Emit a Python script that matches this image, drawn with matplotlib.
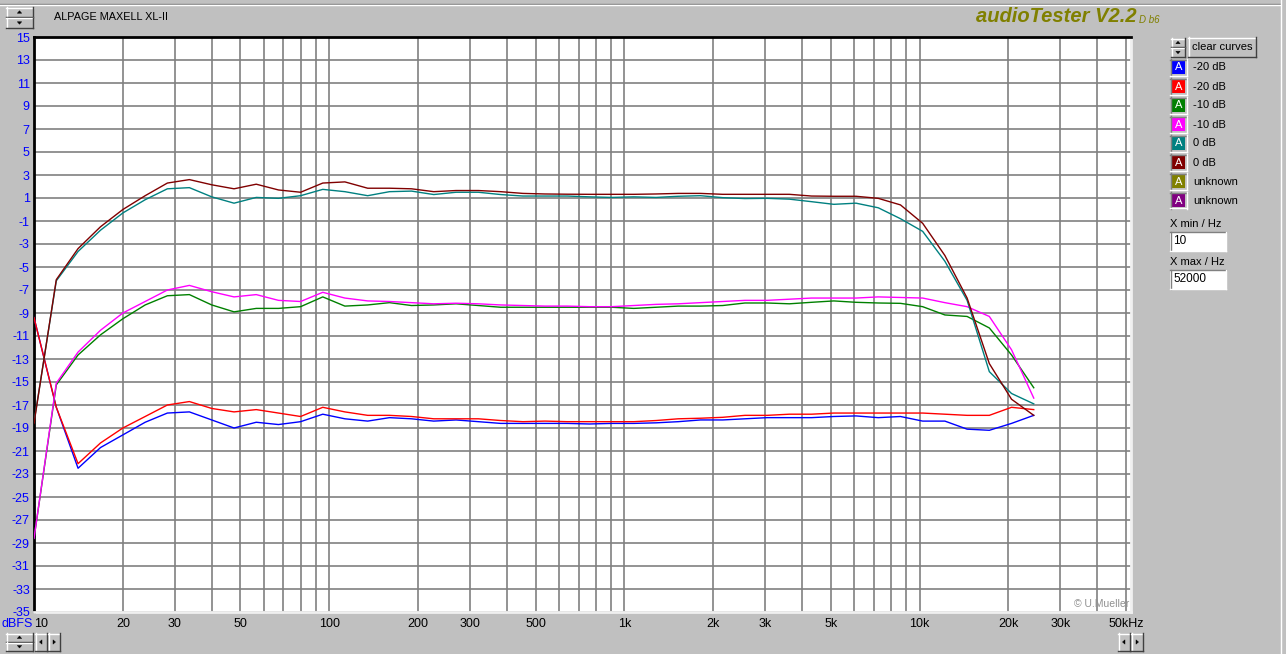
import matplotlib
matplotlib.use("Agg")
import matplotlib.pyplot as plt
from matplotlib.patches import Rectangle, Polygon
from matplotlib.lines import Line2D
from matplotlib.transforms import blended_transform_factory

plt.rcParams["font.family"] = ["Liberation Sans", "DejaVu Sans"]

# ── data (1/4-octave points) ────────────────────────────────────────────
freq_hz = [10, 11.9, 14.1, 16.8, 20, 23.8, 28.3, 33.6, 40, 47.6, 56.6, 67.3,
           80, 95.1, 113, 135, 160, 190, 226, 269, 320, 381, 453, 538, 640,
           761, 905, 1076, 1280, 1522, 1810, 2153, 2560, 3044, 3620, 4305,
           5120, 6089, 7241, 8611, 10240, 12177, 14482, 17222, 20480, 24355]

blue_m20 = [-9.4, -17.2, -22.5, -20.7, -19.6, -18.5, -17.7, -17.6, -18.3, -19.0,
            -18.5, -18.7, -18.45, -17.8, -18.2, -18.4, -18.1, -18.2, -18.4, -18.3,
            -18.45, -18.6, -18.6, -18.6, -18.6, -18.65, -18.6, -18.6, -18.55, -18.45,
            -18.3, -18.3, -18.2, -18.1, -18.1, -18.1, -18.0, -17.95, -18.1, -18.0,
            -18.4, -18.4, -19.1, -19.2, -18.6, -17.9]
red_m20 = [-9.4, -17.2, -22.1, -20.3, -19.0, -18.0, -17.0, -16.7, -17.3, -17.6,
           -17.4, -17.7, -18.0, -17.2, -17.6, -17.9, -17.9, -18.0, -18.2, -18.2,
           -18.2, -18.35, -18.45, -18.4, -18.45, -18.45, -18.45, -18.45, -18.35, -18.2,
           -18.15, -18.07, -17.9, -17.9, -17.8, -17.8, -17.7, -17.7, -17.7, -17.7,
           -17.7, -17.8, -17.9, -17.9, -17.2, -17.4]
green_m10 = [-28.6, -15.25, -12.65, -10.9, -9.5, -8.3, -7.5, -7.4, -8.3, -8.9,
             -8.6, -8.6, -8.45, -7.6, -8.4, -8.3, -8.1, -8.35, -8.3, -8.2,
             -8.35, -8.5, -8.5, -8.5, -8.5, -8.5, -8.5, -8.6, -8.5, -8.4,
             -8.4, -8.35, -8.13, -8.13, -8.2, -8.07, -7.95, -8.07, -8.13, -8.16,
             -8.45, -9.17, -9.3, -10.3, -12.65, -15.5]
magenta_m10 = [-28.6, -15.1, -12.4, -10.5, -9.0, -8.0, -7.0, -6.6, -7.15, -7.6,
               -7.4, -7.9, -8.0, -7.2, -7.7, -7.95, -8.0, -8.1, -8.2, -8.15,
               -8.2, -8.3, -8.35, -8.4, -8.4, -8.45, -8.45, -8.35, -8.25, -8.2,
               -8.1, -8.0, -7.9, -7.9, -7.8, -7.7, -7.7, -7.7, -7.6, -7.65,
               -7.7, -8.1, -8.45, -9.3, -12.2, -16.4]
teal_0 = [-18.5, -6.2, -3.65, -1.8, -0.3, 0.85, 1.8, 1.9, 1.1, 0.55,
          1.05, 0.97, 1.2, 1.75, 1.55, 1.2, 1.55, 1.6, 1.3, 1.5,
          1.5, 1.3, 1.17, 1.17, 1.17, 1.1, 1.05, 1.1, 1.05, 1.15,
          1.2, 1.03, 0.95, 0.97, 0.9, 0.68, 0.45, 0.55, 0.15, -0.8,
          -1.9, -4.5, -7.9, -14.1, -16.0, -16.9]
maroon_0 = [-18.6, -6.1, -3.4, -1.5, 0.0, 1.2, 2.3, 2.6, 2.15, 1.8,
            2.2, 1.7, 1.5, 2.3, 2.4, 1.85, 1.85, 1.8, 1.55, 1.65,
            1.65, 1.55, 1.4, 1.35, 1.33, 1.32, 1.32, 1.32, 1.35, 1.4,
            1.4, 1.32, 1.32, 1.32, 1.32, 1.17, 1.15, 1.15, 0.97, 0.4,
            -1.2, -4.0, -7.7, -13.4, -16.5, -17.9]

curve_labels = ["-20 dB", "-20 dB", "-10 dB", "-10 dB", "0 dB", "0 dB", "unknown", "unknown"]
curve_colors = ["#0000ff", "#ff0000", "#008000", "#ff00ff", "#008080", "#800000", "#808000", "#800080"]

y_ticks = [15, 13, 11, 9, 7, 5, 3, 1, -1, -3, -5, -7, -9, -11, -13, -15, -17, -19,
           -21, -23, -25, -27, -29, -31, -33, -35]
x_tick_pos = [10, 20, 30, 50, 100, 200, 300, 500, 1000, 2000, 3000, 5000, 10000, 20000, 30000, 50000]
x_tick_txt = ["10", "20", "30", "50", "100", "200", "300", "500", "1k", "2k", "3k", "5k",
              "10k", "20k", "30k", "50kHz"]
x_grid = [m * d for d in (10, 100, 1000, 10000) for m in range(1, 10)
          if 10 < m * d <= 50000]

# ── figure / helpers in screen pixels (top-left origin) ─────────────────
W, H = 1286, 654
BG = "#c0c0c0"
fig = plt.figure(figsize=(W / 100, H / 100), dpi=100, facecolor=BG)


def fx(x):
    return x / W


def fy(y):
    return 1 - y / H


def hline(x0, x1, y, color, lw=1.0):
    fig.add_artist(Line2D([fx(x0), fx(x1)], [fy(y), fy(y)], color=color, lw=lw,
                          transform=fig.transFigure))


def vline(x, y0, y1, color, lw=1.0):
    fig.add_artist(Line2D([fx(x), fx(x)], [fy(y0), fy(y1)], color=color, lw=lw,
                          transform=fig.transFigure))


def button(x0, y0, x1, y1, face=BG, sunken=False):
    fig.add_artist(Rectangle((fx(x0), fy(y1)), (x1 - x0) / W, (y1 - y0) / H,
                             transform=fig.transFigure, facecolor=face, edgecolor="none"))
    light, dark = ("#808080", "#ffffff") if sunken else ("#ffffff", "#404040")
    hline(x0, x1, y0 + 0.5, light)
    vline(x0 + 0.5, y0, y1, light)
    hline(x0, x1, y1 - 0.5, dark)
    vline(x1 - 0.5, y0, y1, dark)


def arrow(cx, cy, kind):
    s = 2.2
    pts = {"up": [(cx - s, cy + 1), (cx + s, cy + 1), (cx, cy - 1.5)],
           "down": [(cx - s, cy - 1), (cx + s, cy - 1), (cx, cy + 1.5)],
           "left": [(cx + 1, cy - s), (cx + 1, cy + s), (cx - 1.5, cy)],
           "right": [(cx - 1, cy - s), (cx - 1, cy + s), (cx + 1.5, cy)]}[kind]
    fig.add_artist(Polygon([(fx(a), fy(b)) for a, b in pts], closed=True,
                           transform=fig.transFigure, facecolor="black", edgecolor="black", lw=0.3))


def spin(x0, y0, x1, y1):
    ym = (y0 + y1) / 2
    button(x0, y0, x1, ym)
    button(x0, ym, x1, y1)
    arrow((x0 + x1) / 2, (y0 + ym) / 2, "up")
    arrow((x0 + x1) / 2, (ym + y1) / 2, "down")


# window chrome
hline(0, 1280, 3.5, "#808080")
hline(0, 1280, 4.5, "#ffffff")
vline(1280.5, 0, 654, "#ffffff")
spin(6, 7, 33, 28)
fig.text(fx(54), fy(17), "ALPAGE MAXELL XL-II", fontsize=7.8, va="center", ha="left")
fig.text(fx(976), fy(17), "audioTester V2.2", fontsize=14.5, style="italic", weight="bold",
         color="#808000", va="center", ha="left")
fig.text(fx(1139), fy(20), "D b6", fontsize=7, style="italic", color="#808000",
         va="center", ha="left")

# ── plot area ───────────────────────────────────────────────────────────
L, R, T, B = 34, 1131, 37, 612
ax = fig.add_axes([fx(L), fy(B), (R - L) / W, (B - T) / H])
ax.set_facecolor("white")
ax.set_xscale("log")
ax.set_xlim(10, 52000)
ax.set_ylim(-35, 15)

for f in x_grid:
    ax.axvline(f, color="#808080", lw=1.2, zorder=1)
for v in y_ticks:
    ax.axhline(v, color="#808080", lw=1.2, zorder=1)

series = [blue_m20, red_m20, green_m10, magenta_m10, teal_0, maroon_0]
for vals, col in zip(series, curve_colors):
    ax.plot(freq_hz, vals, color=col, lw=1.0, zorder=3)

ax.set_yticks(y_ticks)
ax.set_yticklabels([str(v) for v in y_ticks], color="#0000ff", fontsize=9)
ax.tick_params(axis="y", length=0, pad=3)
ax.set_xticks([])
ax.minorticks_off()
trans = blended_transform_factory(ax.transData, fig.transFigure)
for pos, txt in zip(x_tick_pos, x_tick_txt):
    ax.text(pos, fy(624), txt, transform=trans, fontsize=9, va="center",
            ha="left" if pos == 10 else "center", clip_on=False)
fig.text(fx(33), fy(624), "dBFS", fontsize=9, color="#0000ff", ha="right", va="center")
ax.text(fx(1129), fy(604), "© U.Mueller", transform=fig.transFigure, fontsize=7.5,
        color="#909090", ha="right", va="center")

for side in ("left", "top"):
    ax.spines[side].set_color("black")
    ax.spines[side].set_linewidth(2.0)
for side in ("right", "bottom"):
    ax.spines[side].set_color("#f0f0f0")
    ax.spines[side].set_linewidth(2.0)

# bottom controls
spin(6, 633, 33, 651)
button(35, 633, 47, 651)
button(48, 633, 60, 651)
arrow(41, 642, "left")
arrow(54, 642, "right")
button(1118, 633, 1130, 651)
button(1131, 633, 1143, 651)
arrow(1124, 642, "left")
arrow(1137, 642, "right")

# ── legend panel ────────────────────────────────────────────────────────
spin(1171, 38, 1185, 57)
button(1188, 37, 1256, 57)
fig.text(fx(1222), fy(47), "clear curves", fontsize=8, ha="center", va="center")
for i, (lab, col) in enumerate(zip(curve_labels, curve_colors)):
    y0 = 60 + 19 * i
    button(1170, y0 - 1, 1187, y0 + 16, sunken=True)
    fig.add_artist(Rectangle((fx(1172), fy(y0 + 14)), 13 / W, 13 / H,
                             transform=fig.transFigure, facecolor=col, edgecolor="none"))
    fig.text(fx(1178.5), fy(y0 + 7.5), "A", fontsize=8, color="white",
             ha="center", va="center")
    fig.text(fx(1193), fy(y0 + 7.5), lab, fontsize=8, ha="left", va="center")

fig.text(fx(1170), fy(224), "X min / Hz", fontsize=8, ha="left", va="center")
button(1170, 232, 1226, 251, face="white", sunken=True)
fig.text(fx(1173), fy(241.5), "10", fontsize=8.5, ha="left", va="center")
fig.text(fx(1170), fy(262), "X max / Hz", fontsize=8, ha="left", va="center")
button(1170, 270, 1226, 289, face="white", sunken=True)
fig.text(fx(1173), fy(279.5), "52000", fontsize=8.5, ha="left", va="center")

fig.savefig("out.png", dpi=100, facecolor=BG)
